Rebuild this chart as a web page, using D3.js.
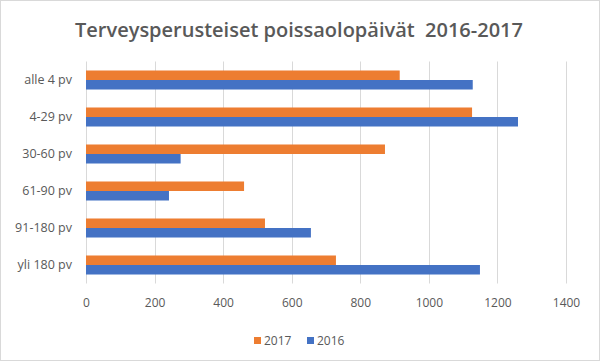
<!DOCTYPE html>
<html>
<head>
<meta charset="utf-8">
<script src="https://cdn.jsdelivr.net/npm/d3@7"></script>
<style>
  body { margin: 0; background: #fff; }
  svg { display: block; font-family: "Open Sans", sans-serif; }
</style>
</head>
<body>
<div id="chart"></div>
<script>
// Categories and values
var categories = ['alle 4 pv', '4-29 pv', '30-60 pv', '61-90 pv', '91-180 pv', 'yli 180 pv'];
var values2017 = [915, 1126, 872, 461, 522, 729];
var values2016 = [1128, 1260, 276, 242, 656, 1149];
var seriesNames = ['2017', '2016'];
var xTicks = [0, 200, 400, 600, 800, 1000, 1200, 1400];

var w = 600, h = 361;
var margin = {top: 61.5, right: 34, bottom: 77.5, left: 86};
var colors = {'2017': '#ED7D31', '2016': '#4472C4'};

var svg = d3.select('#chart').append('svg')
	.attr('width', w)
	.attr('height', h);

// outer border
svg.append('rect')
	.attr('x', 0.5).attr('y', 0.5)
	.attr('width', w - 1).attr('height', h - 1)
	.attr('fill', '#fff')
	.attr('stroke', '#d9d9d9');

var x = d3.scaleLinear().domain([0, 1400]).range([margin.left, w - margin.right]);
var y = d3.scaleBand().domain(categories).range([margin.top, h - margin.bottom])
	.paddingInner(0.486).paddingOuter(0.243);
var ySub = d3.scaleBand().domain(seriesNames).range([0, y.bandwidth()]);

// gridlines
svg.append('g')
	.selectAll('line')
	.data(xTicks)
	.enter()
	.append('line')
	.attr('x1', function(d) { return Math.round(x(d)) + 0.5; })
	.attr('x2', function(d) { return Math.round(x(d)) + 0.5; })
	.attr('y1', margin.top)
	.attr('y2', h - margin.bottom)
	.attr('stroke', '#d9d9d9');

// bars
var rows = categories.map(function(c, i) {
	return {cat: c, vals: [{s: '2017', v: values2017[i]}, {s: '2016', v: values2016[i]}]};
});
var groups = svg.append('g')
	.selectAll('g')
	.data(rows)
	.enter()
	.append('g')
	.attr('transform', function(d) { return 'translate(0,' + y(d.cat) + ')'; });
groups.selectAll('rect')
	.data(function(d) { return d.vals; })
	.enter()
	.append('rect')
	.attr('x', x(0))
	.attr('y', function(d) { return ySub(d.s); })
	.attr('width', function(d) { return x(d.v) - x(0); })
	.attr('height', ySub.bandwidth())
	.attr('fill', function(d) { return colors[d.s]; });

// x axis labels
var xAxis = d3.axisBottom(x).tickValues(xTicks).tickFormat(d3.format('d')).tickSize(0).tickPadding(15);
var gx = svg.append('g')
	.attr('transform', 'translate(0,' + (h - margin.bottom) + ')')
	.call(xAxis);
gx.select('.domain').remove();
gx.selectAll('text')
	.attr('fill', '#595959')
	.style('font-size', '12px')
	.style('font-family', '"Open Sans", sans-serif');

// y axis labels
var yAxis = d3.axisLeft(y).tickSize(0).tickPadding(14);
var gy = svg.append('g')
	.attr('transform', 'translate(' + margin.left + ',0)')
	.call(yAxis);
gy.select('.domain').remove();
gy.selectAll('text')
	.attr('fill', '#595959')
	.style('font-size', '12.5px')
	.style('font-family', '"Open Sans", sans-serif');

// title
svg.append('text')
	.attr('x', 299)
	.attr('y', 37)
	.attr('text-anchor', 'middle')
	.attr('fill', '#595959')
	.style('font-size', '20px')
	.style('font-weight', '600')
	.style('white-space', 'pre')
	.text('Terveysperusteiset poissaolopäivät  2016-2017');

// legend
var legend = svg.append('g')
	.attr('transform', 'translate(254,341)');
var legendX = [0, 53];
seriesNames.forEach(function(s, i) {
	legend.append('rect')
		.attr('x', legendX[i])
		.attr('y', -4)
		.attr('width', 7)
		.attr('height', 7)
		.attr('fill', colors[s]);
	legend.append('text')
		.attr('x', legendX[i] + 10)
		.attr('y', 0)
		.attr('dy', '0.35em')
		.attr('fill', '#595959')
		.style('font-size', '12px')
		.text(s);
});
</script>
</body>
</html>
